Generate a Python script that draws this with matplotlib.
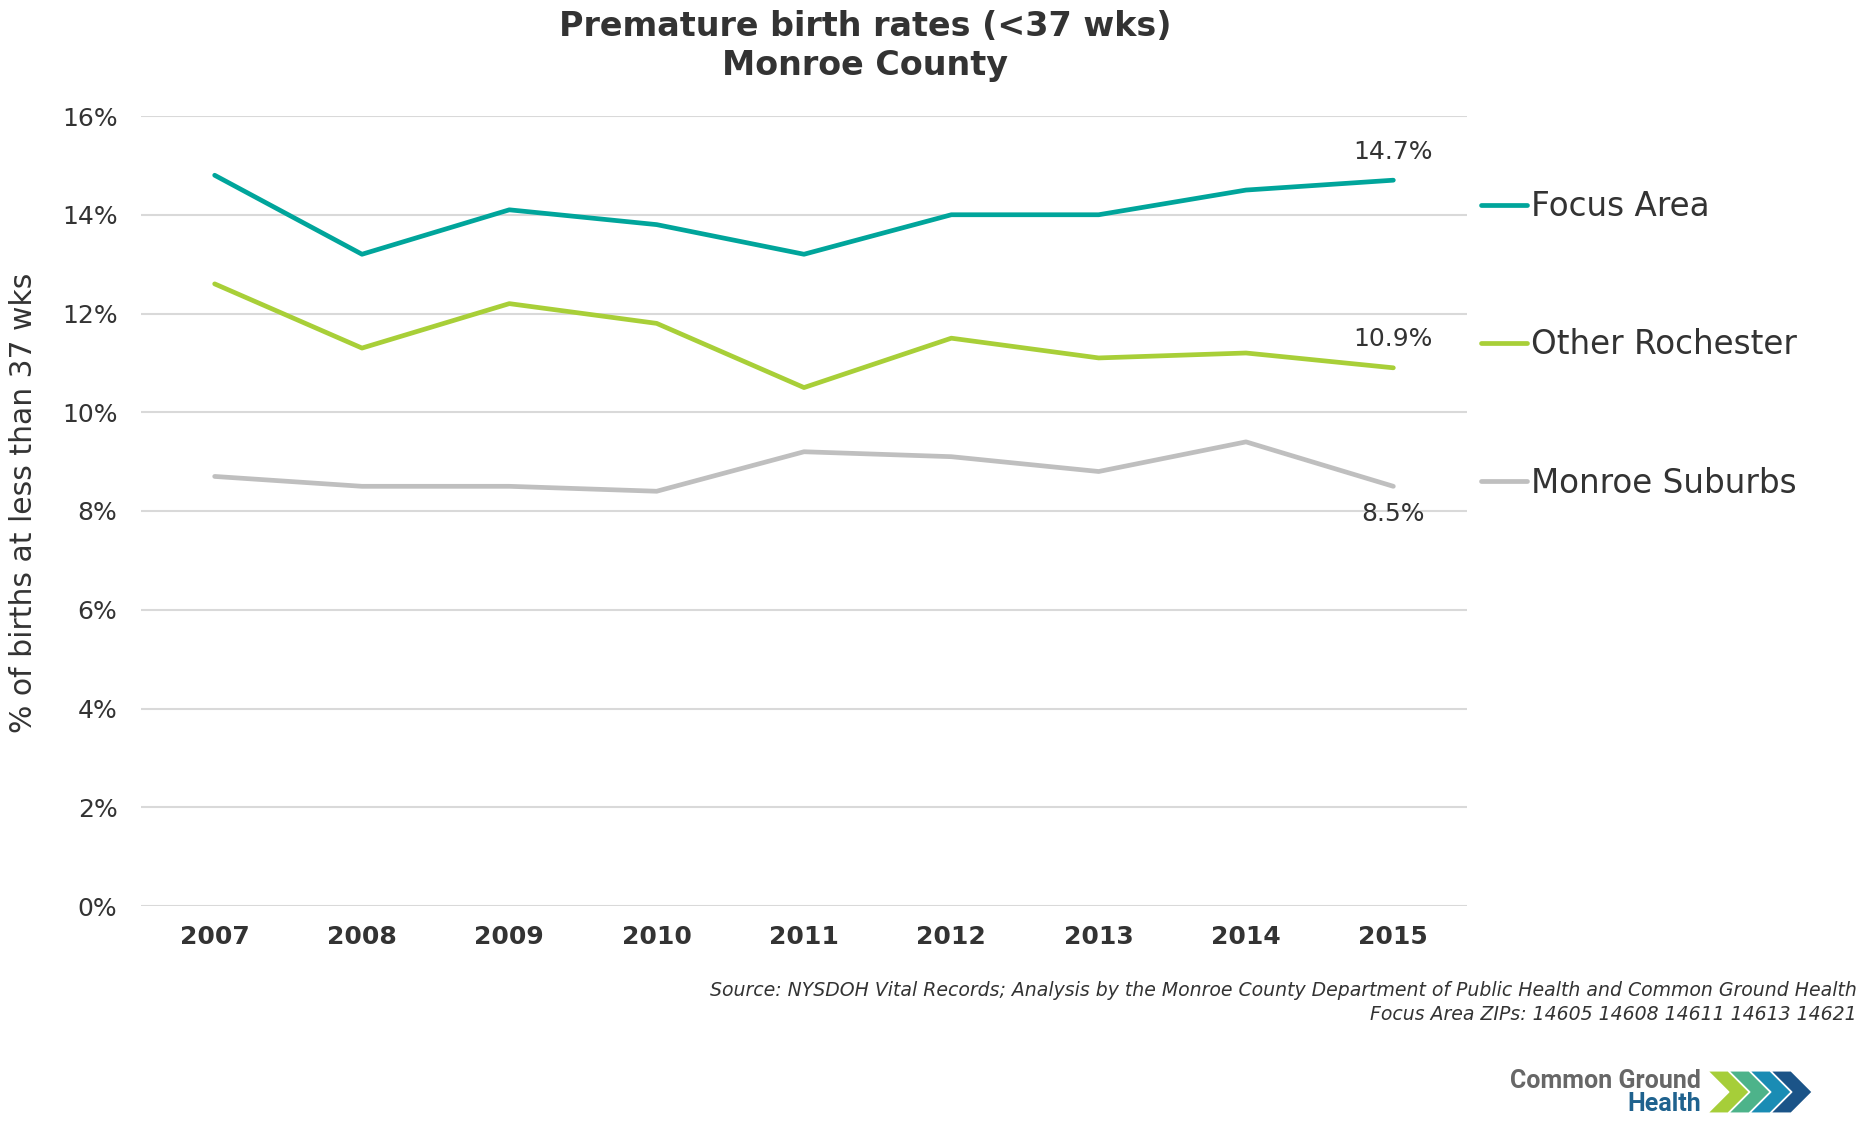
import matplotlib
matplotlib.use("Agg")
import matplotlib.pyplot as plt
from matplotlib.patches import Polygon
import numpy as np

years = ["2007", "2008", "2009", "2010", "2011", "2012", "2013", "2014", "2015"]
focus_area = [14.8, 13.2, 14.1, 13.8, 13.2, 14.0, 14.0, 14.5, 14.7]
other_rochester = [12.6, 11.3, 12.2, 11.8, 10.5, 11.5, 11.1, 11.2, 10.9]
monroe_suburbs = [8.7, 8.5, 8.5, 8.4, 9.2, 9.1, 8.8, 9.4, 8.5]
series_names = ["Focus Area", "Other Rochester", "Monroe Suburbs"]
series_colors = ["#00A59B", "#A8CF38", "#BFBFBF"]
y_ticks = [0, 2, 4, 6, 8, 10, 12, 14, 16]

TXT = "#333333"
plt.rcParams['font.family'] = ['DejaVu Sans']

W, H = 1872, 1144
fig = plt.figure(figsize=(W / 100, H / 100), dpi=100)
ax = fig.add_axes([141 / W, 1 - 906 / H, (1467 - 141) / W, (906 - 116) / H])

x = np.arange(len(years))
lines = []
for vals, name, col in zip([focus_area, other_rochester, monroe_suburbs], series_names, series_colors):
    ln, = ax.plot(x, vals, color=col, lw=3.4, label=name, solid_capstyle='round', solid_joinstyle='round', zorder=3)
    lines.append(ln)

ax.set_xlim(-0.5, len(years) - 0.5)
ax.set_ylim(0, 16)
ax.set_yticks(y_ticks)
ax.set_yticklabels([f"{v}%" for v in y_ticks], fontsize=18, color=TXT)
ax.set_xticks(x)
ax.set_xticklabels(years, fontsize=18, fontweight='bold', color=TXT)
ax.tick_params(axis='both', length=0)
ax.tick_params(axis='y', pad=17)
ax.tick_params(axis='x', pad=14)
ax.grid(axis='y', color="#D9D9D9", lw=1.5, zorder=0)
for s in ax.spines.values():
    s.set_visible(False)

# data labels for final year
last = len(years) - 1
ax.annotate(f"{focus_area[last]}%", (x[last], focus_area[last]), xytext=(0, 20), textcoords='offset points',
            ha='center', va='center', fontsize=18, color=TXT)
ax.annotate(f"{other_rochester[last]}%", (x[last], other_rochester[last]), xytext=(0, 21), textcoords='offset points',
            ha='center', va='center', fontsize=18, color=TXT)
ax.annotate(f"{monroe_suburbs[last]}%", (x[last], monroe_suburbs[last]), xytext=(0, -20), textcoords='offset points',
            ha='center', va='center', fontsize=18, color=TXT)

leg = fig.legend(handles=lines, labels=series_names, loc='upper left',
                 bbox_to_anchor=(1452 / W, 1 - 161 / H), frameon=False, fontsize=23.5,
                 handlelength=1.4, handletextpad=0.12, labelspacing=3.22, labelcolor=TXT)

fig.text(865 / W, 1 - 26 / H, "Premature birth rates (<37 wks)", ha='center', va='center',
         fontsize=24, fontweight='bold', color=TXT)
fig.text(865 / W, 1 - 66 / H, "Monroe County", ha='center', va='center',
         fontsize=24, fontweight='bold', color=TXT)

fig.text(24 / W, 1 - 503 / H, "% of births at less than 37 wks", rotation=90, ha='center', va='center',
         fontsize=21.5, color=TXT)

fig.text(1857 / W, 1 - 991 / H,
         "Source: NYSDOH Vital Records; Analysis by the Monroe County Department of Public Health and Common Ground Health",
         ha='right', va='center', fontsize=13.6, style='italic', color=TXT)
fig.text(1857 / W, 1 - 1014 / H, "Focus Area ZIPs: 14605 14608 14611 14613 14621",
         ha='right', va='center', fontsize=13.6, style='italic', color=TXT)

# logo
fig.text(1701 / W, 1 - 1081 / H, "Common Ground", ha='right', va='center', fontsize=18,
         fontweight='bold', family='Roboto', color="#676767")
fig.text(1701 / W, 1 - 1104 / H, "Health", ha='right', va='center', fontsize=18,
         fontweight='bold', family='Roboto', color="#1F628E")
chev_cols = ["#A6CE39", "#4DB38A", "#1A8CB4", "#1B5488"]
x0, top, bot = 1708, 1071, 1113
mid = (top + bot) / 2
d, w, s = 21, 20, 21
for i, c in enumerate(chev_cols):
    xs = x0 + i * s
    pts = [(xs, top), (xs + w, top), (xs + w + d, mid), (xs + w, bot), (xs, bot), (xs + d, mid)]
    fig.patches.append(Polygon([(px / W, 1 - py / H) for px, py in pts], closed=True,
                               transform=fig.transFigure, facecolor=c, edgecolor='white', lw=0.8))

fig.savefig("out.png", dpi=100, facecolor='white')
